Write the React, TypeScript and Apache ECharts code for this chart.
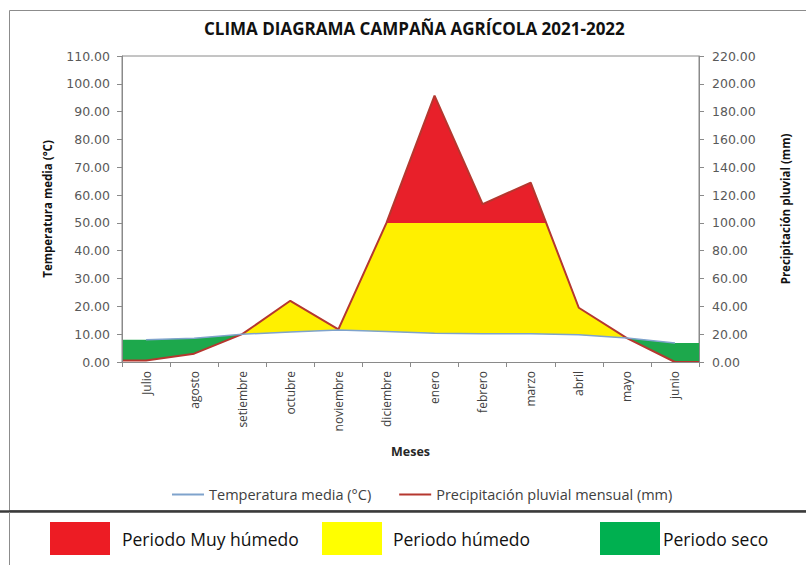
import React, { useEffect, useRef } from "react";
import * as echarts from "echarts";

const months = ["Julio", "agosto", "setiembre", "octubre", "noviembre", "diciembre", "enero", "febrero", "marzo", "abril", "mayo", "junio"];
const temperature = [8.0, 8.5, 10.0, 10.8, 11.5, 11.0, 10.3, 10.2, 10.2, 9.8, 8.6, 6.8];
const precipitation = [1, 6, 20, 44, 23.5, 100, 191.5, 113.5, 129, 39, 17.2, 0];
const tempAxis = { min: 0, max: 110, interval: 10 };
const precAxis = { min: 0, max: 220, interval: 20 };
const wetThreshold = 100;
const periodLabels = ["Periodo Muy húmedo", "Periodo húmedo", "Periodo seco"];

const RED = "#E8202A";
const YELLOW = "#FFF000";
const GREEN = "#1DA84C";
const TEMP_LINE = "#7FA3CC";
const PREC_LINE = "#B5372F";

const centers = months.map((_, i) => i + 0.5);
function withEdges(vals: number[]): number[][] {
  const pts = vals.map((v, i) => [centers[i], v]);
  return [[0, vals[0]], ...pts, [months.length, vals[vals.length - 1]]];
}

export default function App() {
  const ref = useRef<HTMLDivElement>(null);
  useEffect(() => {
    if (!ref.current) return;
    const chart = echarts.init(ref.current, null, { renderer: "svg" });
    const dryBase = temperature.map((t, i) => Math.min(t, precipitation[i] / 2));
    const axisLabelStyle = { fontFamily: "DejaVu Sans", fontSize: 12.5, color: "#595959" };
    const axisLine = { show: true, lineStyle: { color: "#8a8a8a", width: 1 } };
    chart.setOption({
      animation: false,
      backgroundColor: "#fff",
      title: {
        text: "CLIMA DIAGRAMA CAMPAÑA AGRÍCOLA 2021-2022",
        left: 204,
        top: 20,
        padding: 0,
        textStyle: { fontFamily: "Open Sans", fontWeight: "bold", fontSize: 17, color: "#111" },
      },
      grid: { left: 122, right: 107, top: 56, bottom: 203, show: true, borderColor: "#8a8a8a", borderWidth: 1 },
      legend: {
        data: ["Temperatura media (°C)", "Precipitación pluvial mensual (mm)"],
        left: 167,
        top: 482,
        icon: "rect",
        itemWidth: 32,
        itemHeight: 2,
        itemGap: 28,
        textStyle: { fontFamily: "Open Sans", fontSize: 14.5, color: "#404040" },
      },
      visualMap: [
        {
          type: "piecewise",
          show: false,
          seriesIndex: 0,
          dimension: 1,
          pieces: [
            { gt: wetThreshold, lte: 100000, color: RED },
            { gte: -100000, lte: wetThreshold, color: YELLOW },
          ],
        },
      ],
      xAxis: [
        {
          type: "category",
          data: months,
          boundaryGap: true,
          z: 5,
          axisLine,
          axisTick: { show: true, length: 5, lineStyle: { color: "#8a8a8a" } },
          axisLabel: { rotate: 90, margin: 9, fontFamily: "Open Sans", fontSize: 12, color: "#404040" },
          name: "Meses",
          nameLocation: "middle",
          nameGap: 83,
          nameTextStyle: { fontFamily: "Open Sans", fontWeight: "bold", fontSize: 12.5, color: "#262626" },
          splitLine: { show: false },
        },
        { type: "value", min: 0, max: months.length, show: false },
      ],
      yAxis: [
        {
          type: "value",
          ...tempAxis,
          z: 5,
          axisLine,
          axisTick: { show: true, length: 5, lineStyle: { color: "#8a8a8a" } },
          axisLabel: { ...axisLabelStyle, margin: 12, formatter: (v: number) => v.toFixed(2) },
          splitLine: { show: false },
          name: "Temperatura media (°C)",
          nameLocation: "middle",
          nameRotate: 90,
          nameGap: 69,
          nameTextStyle: { fontFamily: "Open Sans", fontWeight: "bold", fontSize: 11.5, color: "#111" },
        },
        {
          type: "value",
          ...precAxis,
          position: "right",
          z: 5,
          axisLine,
          axisTick: { show: true, length: 5, lineStyle: { color: "#8a8a8a" } },
          axisLabel: { ...axisLabelStyle, margin: 13, formatter: (v: number) => v.toFixed(2) },
          splitLine: { show: false },
          name: "Precipitación pluvial (mm)",
          nameLocation: "middle",
          nameRotate: 90,
          nameGap: 80,
          nameTextStyle: { fontFamily: "Open Sans", fontWeight: "bold", fontSize: 11.5, color: "#111" },
        },
      ],
      series: [
        {
          name: "wet",
          type: "line",
          xAxisIndex: 1,
          yAxisIndex: 1,
          data: withEdges(precipitation),
          symbol: "none",
          silent: true,
          lineStyle: { width: 0 },
          areaStyle: { opacity: 1 },
        },
        {
          name: "dry",
          type: "line",
          xAxisIndex: 1,
          yAxisIndex: 0,
          data: withEdges(temperature),
          symbol: "none",
          silent: true,
          lineStyle: { width: 0 },
          areaStyle: { color: GREEN, opacity: 1 },
        },
        {
          name: "base",
          type: "line",
          xAxisIndex: 1,
          yAxisIndex: 0,
          data: withEdges(dryBase),
          symbol: "none",
          silent: true,
          lineStyle: { width: 0 },
          areaStyle: { color: "#ffffff", opacity: 1 },
        },
        {
          name: "Precipitación pluvial mensual (mm)",
          type: "line",
          xAxisIndex: 1,
          yAxisIndex: 1,
          data: withEdges(precipitation),
          symbol: "none",
          itemStyle: { color: PREC_LINE },
          lineStyle: { color: PREC_LINE, width: 2 },
        },
        {
          name: "Temperatura media (°C)",
          type: "line",
          xAxisIndex: 1,
          yAxisIndex: 0,
          data: temperature.map((t, i) => [centers[i], t]),
          symbol: "none",
          itemStyle: { color: TEMP_LINE },
          lineStyle: { color: TEMP_LINE, width: 1.5 },
        },
      ],
      graphic: [
        { type: "rect", shape: { x: 9.5, y: 10.5, width: 830, height: 500 }, style: { fill: "none", stroke: "#8c8c8c", lineWidth: 1 }, silent: true },
        { type: "line", shape: { x1: 0, y1: 511.5, x2: 806, y2: 511.5 }, style: { stroke: "#3a3a3a", lineWidth: 2.5 }, silent: true },
        { type: "line", shape: { x1: 9.5, y1: 512, x2: 9.5, y2: 565 }, style: { stroke: "#8c8c8c", lineWidth: 1 }, silent: true },
        { type: "rect", shape: { x: 50, y: 522, width: 60, height: 33 }, style: { fill: "#ED1C24" }, silent: true },
        { type: "rect", shape: { x: 322, y: 522, width: 60, height: 33 }, style: { fill: "#FFFF00" }, silent: true },
        { type: "rect", shape: { x: 600, y: 522, width: 60, height: 33 }, style: { fill: "#00B050" }, silent: true },
        { type: "text", x: 122, y: 539, style: { text: periodLabels[0], fontFamily: "Open Sans", fontSize: 17.5, fill: "#111", verticalAlign: "middle" }, silent: true },
        { type: "text", x: 393, y: 539, style: { text: periodLabels[1], fontFamily: "Open Sans", fontSize: 17.5, fill: "#111", verticalAlign: "middle" }, silent: true },
        { type: "text", x: 663, y: 539, style: { text: periodLabels[2], fontFamily: "Open Sans", fontSize: 17.5, fill: "#111", verticalAlign: "middle" }, silent: true },
      ],
    });
    return () => chart.dispose();
  }, []);
  return (
    <div style={{ position: "absolute", left: 0, top: 0, width: 806, height: 565, background: "#fff" }}>
      <div ref={ref} style={{ width: 806, height: 565 }} />
    </div>
  );
}
